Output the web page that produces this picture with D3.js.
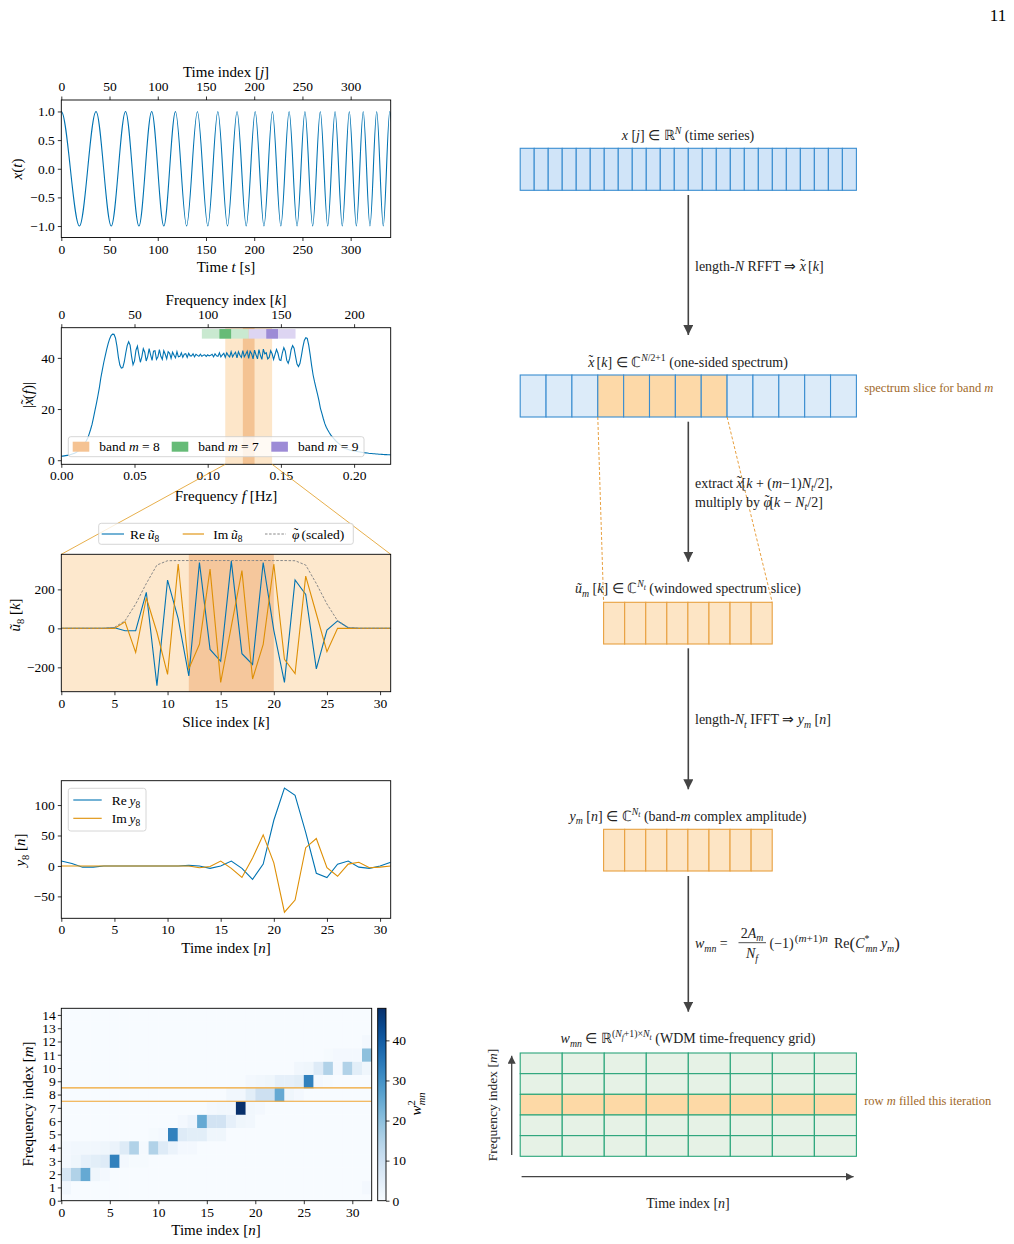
<!DOCTYPE html>
<html><head><meta charset="utf-8">
<script src="https://cdn.jsdelivr.net/npm/d3@7/dist/d3.min.js"></script>
<style>
html,body{margin:0;padding:0;background:#fff}
svg{display:block}
text{font-family:"Liberation Serif","Times New Roman",serif;white-space:pre}
</style></head><body>
<svg id="fig" width="1014" height="1244" xmlns="http://www.w3.org/2000/svg"></svg>
<script>
// ================= DATA =================
// Panel 1: chirp x(t) — extremum times (alternating troughs / peaks)
const chirpT = [-18.8, 0, 18.8, 36.0, 51.8, 66.6, 80.5, 93.7, 106.3, 118.4, 129.9, 141.1, 151.9, 162.3, 172.3, 182.2, 191.7, 201.0, 210.1, 218.9, 227.6, 236.2, 244.4, 252.6, 260.6, 268.5, 276.2, 283.8, 291.3, 298.6, 305.9, 313.0, 320.0, 327.0, 333.8, 340.5, 347.1];
const chirpX = [-1, 1, -1, 1, -1, 1, -1, 1, -1, 1, -1, 1, -1, 1, -1, 1, -1, 1, -1, 1, -1, 1, -1, 1, -1, 1, -1, 1, -1, 1, -1, 1, -1, 1, -1, 1, -1];
const tTicks = [0, 50, 100, 150, 200, 250, 300];
const xTicks1 = [-1.0, -0.5, 0.0, 0.5, 1.0];

// Panel 2: |x~(f)| at integer k (f = k/1000 Hz)
const specMag = [
 1.6,1.6,1.7,1.8,1.9,2.0,2.1,2.3,2.5,2.7,
 3.0,3.4,3.8,4.3,4.9,5.6,6.5,7.5,8.6,10.2,
 12.0,14.0,16.6,19.5,22.2,25.2,28.4,32.2,35.2,38.2,
 40.8,43.3,45.6,47.4,48.7,49.3,49.2,47.8,44.6,40.2,
 37.2,36.0,36.2,38.4,41.8,44.8,46.3,45.0,40.6,37.3,
 38.8,43.0,44.6,41.2,38.3,40.4,43.6,42.2,38.8,40.5,
 43.6,41.2,39.0,42.6,42.8,39.4,40.4,43.2,40.6,39.4,
 42.8,41.4,39.6,42.4,41.8,39.8,42.2,41.0,40.0,42.4,
 40.4,40.6,42.0,40.2,41.4,41.6,40.2,41.8,40.8,40.8,
 41.6,40.4,41.4,41.0,40.6,41.4,40.6,41.0,41.2,40.6,
 41.2,40.8,41.0,41.4,40.4,41.6,40.8,40.6,42.0,40.4,
 41.2,41.8,40.2,42.0,41.0,40.4,42.4,40.4,41.4,42.2,
 40.0,42.4,41.0,40.2,42.8,40.4,41.4,42.6,39.8,42.6,
 41.6,39.6,43.0,41.2,39.6,43.2,41.0,39.4,43.4,41.6,
 42.0,39.6,40.2,42.8,41.6,39.4,41.4,43.3,41.8,39.2,
 39.0,42.0,44.0,42.6,39.0,37.9,39.8,43.2,44.8,43.8,
 40.6,37.6,36.6,37.8,40.8,44.2,46.8,47.9,47.6,45.0,
 41.2,37.0,33.3,30.6,28.2,25.8,23.3,20.3,18.3,16.2,
 14.3,12.9,11.8,10.8,9.9,9.2,8.5,7.9,7.3,6.8,
 6.3,5.8,5.3,4.9,4.6,4.4,4.2,4.0,3.85,3.7,
 3.6,3.5,3.4,3.3,3.2,3.1,3.0,2.9,2.85,2.8,
 2.7,2.65,2.6,2.55,2.5,2.45,2.4,2.35,2.3,2.27,
 2.24,2.2,2.17,2.14,2.11,2.08];
const fTicks = [0.00, 0.05, 0.10, 0.15, 0.20];
const kTicks = [0, 50, 100, 150, 200];
const magTicks = [0, 20, 40];
const bandNames = [8, 7, 9];
const band8 = [112, 144], band8Core = [124, 132];
const band7 = [96, 128],  band7Core = [108, 116];
const band9 = [128, 160], band9Core = [140, 148];

// Panel 3: windowed slice u~8[k], k = 0..31
const reU8 = [0,0,0,0,0,3,-12,-12,185,-294,248,50,-244,338,-108,-169,345,-130,-185,338,-10,-277,248,174,-208,-9,38,3,0,0,0,0];
const imU8 = [0,0,0,0,0,0,34,-123,157,-20,-236,330,-208,-82,304,-277,10,296,-260,-82,330,-159,-232,268,75,-120,0,0,0,0,0,0];
const phiScaled = [0,0,0,0,0,5,39,125,230,325,347,348,348,348,348,348,348,348,348,348,348,348,347,325,230,125,39,5,0,0,0,0];
const coreSlice = [12, 20];
const sliceTicks = [0, 5, 10, 15, 20, 25, 30];
const uTicks = [-200, 0, 200];

// Panel 4: y8[n], n = 0..31
const reY8 = [8,4,-2,-2,0,0,0,0,0,0,0,0,1,0,-4,0,8,-4,-22,3,75,128,116,55,-12,-19,3,8,-2,-4,0,6];
const imY8 = [0,0,0,0,0,0,0,0,0,0,0,0,0,-3,-1,8,-4,-19,13,51,5,-76,-56,30,45,-3,-17,3,6,-3,-2,0];
const yTicks = [-50, 0, 50, 100];

// Panel 5: w_mn^2, rows m = 0..14, columns n = 0..31
const heat = [
 [0,0,0,0,0,0,0,0, 0,0,0,0,0,0,0,0, 0,0,0,0,0,0,0,0, 0,0,0,0,0,0,0,0],
 [1.5,0,0,0,0,0,0,0, 0,0,0,0,0,0,0,0, 0,0,0,0,0,0,0,0, 0,0,0,0,0,0,0,1],
 [8,15,25,2,1,0,0,0, 0,0,0,0,0,0,0,0, 0,0,0,0,0,0,0,0, 0,0,0,0,0,0,0,0],
 [1,2,4,5,6,33,1,0.5, 0.5,0,0,0,0,0,0,0, 0,0,0,0,0,0,0,0, 0,0,0,0,0,0,0,0],
 [1,1.5,1.5,1.5,2,3,6,15, 0.8,15,6,3,1,1,0,0, 0,0,0,0,0,0,0,0, 0,0,0,0,0,0,0,0],
 [0,0,0,0,0,0,0,0, 0,0.5,1,33,6,5,5,2, 2,0,0,0,0,0,0,0, 0,0,0,0,0,0,0,0],
 [0,0,0,0,0,0,0,0, 0,0,0,0,1,2.5,25,9, 9,4,2,1.5,0,0,0,0, 0,0,0,0,0,0,0,0],
 [0,0,0,0,0,0,0,0, 0,0,0,0,0,0,0,1, 1.5,1.5,48,1.5,1,0,0,0, 0,0,0,0,0,0,0,0],
 [0,0,0,0,0,0,0,0, 0,0,0,0,0,0,0,0, 0,1.5,1.5,5,10,10,25,2, 1,0,0,0,0,0,0,0],
 [0,0,0,0,0,0,0,0, 0,0,0,0,0,0,0,0, 0,0,0,1,1.5,2,4,4, 5,33,1,0.5,0,0,0,0],
 [0,0,0,0,0,0,0,0, 0,0,0,0,0,0,0,0, 0,0,0,0,0,0,0,0, 1.5,2,6,15,1,15,5,2],
 [0,0,0,0,0,0,0,0, 0,0,0,0,0,0,0,0, 0,0,0,0,0,0,0,0, 0,0,0,0.5,1,1,1,20],
 [0,0,0,0,0,0,0,0, 0,0,0,0,0,0,0,0, 0,0,0,0,0,0,0,0, 0,0,0,0,0,0,0,1],
 [0,0,0,0,0,0,0,0, 0,0,0,0,0,0,0,0, 0,0,0,0,0,0,0,0, 0,0,0,0,0,0,0,0],
 [0,0,0,0,0,0,0,0, 0,0,0,0,0,0,0,0, 0,0,0,0,0,0,0,0, 0,0,0,0,0,0,0,0]];
const heatMax = 48;
const heatXTicks = [0, 5, 10, 15, 20, 25, 30];
const heatYTicks = [0,1,2,3,4,5,6,7,8,9,10,11,12,13,14];
const cbTicks = [0, 10, 20, 30, 40];
const bandLines = [7.5, 8.5];

// Right-hand diagram
const nTimeCells = 24;
const nSpecCells = 13;
const specSliceCells = [3, 4, 5, 6, 7];
const nSliceCells = 8;
const gridCols = 8, gridRows = 5, gridHighlightRow = 2;

// ================= DRAWING =================
const BLUE = "#0173B2", ORANGE = "#DE8F05";
const FONT = '"Liberation Serif","Times New Roman",serif';
const svg = d3.select("#fig");
svg.append("rect").attr("width", 1014).attr("height", 1244).attr("fill", "#fff");
const defs = svg.append("defs");

const R = t => ({t});
const I = t => ({t, i: 1});
const Sb = (t, i = 1) => ({t, i, o: 0.25, s: 0.7});
const Sp = (t, i = 0) => ({t, i, o: -0.4, s: 0.7});
const Ss = (t, i = 1) => ({t, i, o: -0.22, s: 0.55});
const Tl = (dx) => ({t: "˜", o: -0.12, dx: dx});

function rich(sel, parts, fs) {
  let cur = 0;
  parts.forEach(p => {
    const o = (p.o || 0) * fs;
    const ts = sel.append("tspan").text(p.t);
    if (o !== cur) { ts.attr("dy", o - cur); cur = o; }
    if (p.s) ts.attr("font-size", fs * p.s);
    if (p.i) ts.attr("font-style", "italic");
    if (p.dx) ts.attr("dx", p.dx * (p.t === "˜" ? fs / 14 : 1));
  });
}
function label(x, y, parts, fs, anchor = "middle", rot = 0, color = "#000") {
  const t = svg.append("text").attr("font-size", fs).attr("text-anchor", anchor).attr("fill", color);
  if (rot) t.attr("transform", `translate(${x},${y}) rotate(${rot})`);
  else t.attr("x", x).attr("y", y);
  rich(t, parts, fs);
  return t;
}
function axis(gen, tx, ty) {
  const g = svg.append("g").attr("transform", `translate(${tx},${ty})`).call(gen);
  g.select(".domain").remove();
  g.attr("font-family", FONT).attr("font-size", 13.5);
  g.selectAll(".tick line").attr("stroke", "#000").attr("stroke-width", 0.8);
  g.selectAll(".tick text").attr("fill", "#000");
  return g;
}
function spine(x0, x1, y0, y1) {
  svg.append("rect").attr("x", x0).attr("y", y0).attr("width", x1 - x0).attr("height", y1 - y0)
    .attr("fill", "none").attr("stroke", "#000").attr("stroke-width", 0.9);
}
let clipN = 0;
function clip(x0, x1, y0, y1) {
  const id = "clip" + (clipN++);
  defs.append("clipPath").attr("id", id).append("rect")
    .attr("x", x0).attr("y", y0).attr("width", x1 - x0).attr("height", y1 - y0);
  return svg.append("g").attr("clip-path", `url(#${id})`);
}
function legendBox(x0, y0, x1, y1) {
  svg.append("rect").attr("x", x0).attr("y", y0).attr("width", x1 - x0).attr("height", y1 - y0)
    .attr("rx", 2.5).attr("fill", "#fff").attr("fill-opacity", 0.8)
    .attr("stroke", "#cccccc").attr("stroke-width", 0.8);
}

const AX0 = 61.3, AX1 = 390.7;

// ---------- Panel 1 ----------
{
  const y0 = 100, y1 = 237.5;
  const xs = d3.scaleLinear([0, 341.5], [AX0, AX1]);
  const ys = d3.scaleLinear([-1.2, 1.2], [y1, y0]);
  const g = clip(AX0, AX1, y0, y1);
  g.append("path").datum(d3.zip(chirpT, chirpX))
    .attr("d", d3.line().x(d => xs(d[0])).y(d => ys(d[1])).curve(d3.curveMonotoneX))
    .attr("fill", "none").attr("stroke", BLUE).attr("stroke-width", 1.1);
  spine(AX0, AX1, y0, y1);
  axis(d3.axisBottom(xs).tickValues(tTicks).tickSize(3.5).tickPadding(3).tickFormat(d3.format("d")), 0, y1);
  axis(d3.axisTop(xs).tickValues(tTicks).tickSize(3.5).tickPadding(5.5).tickFormat(d3.format("d")), 0, y0);
  axis(d3.axisLeft(ys).tickValues(xTicks1).tickSize(3.5).tickPadding(3).tickFormat(d3.format(".1f")), AX0, 0);
  label(226, 77, [R("Time index ["), I("j"), R("]")], 15);
  label(226, 272, [R("Time "), I("t"), R(" [s]")], 15);
  label(22, 169, [I("x"), R("("), I("t"), R(")")], 15, "middle", -90);
}

// ---------- Panel 2 ----------
const P2 = {y0: 327.7, y1: 464.3};
const kScale = d3.scaleLinear([0, 225], [AX0, AX1]);
{
  const {y0, y1} = P2;
  const xs = d3.scaleLinear([0, 0.225], [AX0, AX1]);
  const ys = d3.scaleLinear([-1.6, 51.8], [y1, y0]);
  const g = clip(AX0, AX1, y0, y1);
  const span = (b, fill, fy0, fy1) => g.append("rect")
    .attr("x", kScale(b[0])).attr("width", kScale(b[1]) - kScale(b[0]))
    .attr("y", y0 + (1 - fy1) * (y1 - y0)).attr("height", (fy1 - fy0) * (y1 - y0)).attr("fill", fill);
  span(band8, "#fde6c9", 0, 1);
  span(band8Core, "#f4c393", 0, 1);
  span(band7, "#c9e9d0", 0.92, 0.99);
  span(band7Core, "#66bb77", 0.92, 0.99);
  span(band9, "#ddd5f2", 0.92, 0.99);
  span(band9Core, "#9d8bd6", 0.92, 0.99);
  g.append("path").datum(specMag)
    .attr("d", d3.line().x((d, i) => kScale(i)).y(d => ys(d)))
    .attr("fill", "none").attr("stroke", BLUE).attr("stroke-width", 1.1);
  legendBox(68.3, 436.7, 364, 456.7);
  const cols = ["#f5c393", "#66bb77", "#9d8bd6"];
  const px = [72.7, 171.7, 271.3];
  bandNames.forEach((m, i) => {
    svg.append("rect").attr("x", px[i]).attr("y", 441.7).attr("width", 16.6).attr("height", 10).attr("fill", cols[i]);
    label(px[i] + 26.6, 451.3, [R("band "), I("m"), R(" = " + m)], 13.5, "start");
  });
  spine(AX0, AX1, y0, y1);
  axis(d3.axisBottom(xs).tickValues(fTicks).tickSize(3.5).tickPadding(3).tickFormat(d3.format(".2f")), 0, y1);
  axis(d3.axisTop(kScale).tickValues(kTicks).tickSize(3.5).tickPadding(5.5).tickFormat(d3.format("d")), 0, y0);
  axis(d3.axisLeft(ys).tickValues(magTicks).tickSize(3.5).tickPadding(3).tickFormat(d3.format("d")), AX0, 0);
  label(226, 304.5, [R("Frequency index ["), I("k"), R("]")], 15);
  label(226, 501, [R("Frequency "), I("f"), R(" [Hz]")], 15);
  label(33, 395, [R("|"), I("x"), Tl(-5.5), R("("), I("f"), R(")|")], 15, "middle", -90);
}

// ---------- Panel 3 ----------
{
  const y0 = 554.3, y1 = 691.7;
  svg.append("line").attr("x1", kScale(band8[0])).attr("y1", P2.y1).attr("x2", AX0).attr("y2", y0)
    .attr("stroke", ORANGE).attr("stroke-width", 0.9).attr("stroke-opacity", 0.8);
  svg.append("line").attr("x1", kScale(band8[1])).attr("y1", P2.y1).attr("x2", AX1).attr("y2", y0)
    .attr("stroke", ORANGE).attr("stroke-width", 0.9).attr("stroke-opacity", 0.8);
  const xs = d3.scaleLinear([0, 31], [AX0, AX1]);
  const ys = d3.scaleLinear([-325, 380], [y1, y0]);
  const g = clip(AX0, AX1, y0, y1);
  g.append("rect").attr("x", AX0).attr("y", y0).attr("width", AX1 - AX0).attr("height", y1 - y0).attr("fill", "#fde8cd");
  g.append("rect").attr("x", xs(coreSlice[0])).attr("y", y0).attr("width", xs(coreSlice[1]) - xs(coreSlice[0]))
    .attr("height", y1 - y0).attr("fill", "#f5c79c");
  const ln = d3.line().x((d, i) => xs(i)).y(d => ys(d));
  g.append("path").datum(reU8).attr("d", ln).attr("fill", "none").attr("stroke", BLUE).attr("stroke-width", 1.1);
  g.append("path").datum(imU8).attr("d", ln).attr("fill", "none").attr("stroke", ORANGE).attr("stroke-width", 1.1);
  g.append("path").datum(phiScaled).attr("d", ln).attr("fill", "none").attr("stroke", "#888")
    .attr("stroke-width", 1).attr("stroke-dasharray", "2.5,1.6");
  spine(AX0, AX1, y0, y1);
  axis(d3.axisBottom(xs).tickValues(sliceTicks).tickSize(3.5).tickPadding(3).tickFormat(d3.format("d")), 0, y1);
  axis(d3.axisLeft(ys).tickValues(uTicks).tickSize(3.5).tickPadding(3).tickFormat(d3.format("d")), AX0, 0);
  legendBox(98.7, 523.3, 353.3, 544.3);
  const ly = 534;
  svg.append("line").attr("x1", 101.7).attr("x2", 124).attr("y1", ly).attr("y2", ly).attr("stroke", BLUE).attr("stroke-width", 1.1);
  label(130, ly + 4.5, [R("Re\u2009"), I("ũ"), Sb("8", 0)], 13.5, "start");
  svg.append("line").attr("x1", 182.7).attr("x2", 204).attr("y1", ly).attr("y2", ly).attr("stroke", ORANGE).attr("stroke-width", 1.1);
  label(213.3, ly + 4.5, [R("Im\u2009"), I("ũ"), Sb("8", 0)], 13.5, "start");
  svg.append("line").attr("x1", 265).attr("x2", 286).attr("y1", ly).attr("y2", ly).attr("stroke", "#888")
    .attr("stroke-width", 1).attr("stroke-dasharray", "2.5,1.6");
  label(292, ly + 4.5, [I("φ"), Tl(-6), R(" (scaled)")], 13.5, "start");
  label(226, 727, [R("Slice index ["), I("k"), R("]")], 15);
  label(20, 615, [I("ũ"), Sb("8", 0), R(" ["), I("k"), R("]")], 15, "middle", -90);
}

// ---------- Panel 4 ----------
{
  const y0 = 780.7, y1 = 918.3;
  const xs = d3.scaleLinear([0, 31], [AX0, AX1]);
  const ys = d3.scaleLinear([-86, 140], [y1, y0]);
  const g = clip(AX0, AX1, y0, y1);
  const ln = d3.line().x((d, i) => xs(i)).y(d => ys(d));
  g.append("path").datum(reY8).attr("d", ln).attr("fill", "none").attr("stroke", BLUE).attr("stroke-width", 1.1);
  g.append("path").datum(imY8).attr("d", ln).attr("fill", "none").attr("stroke", ORANGE).attr("stroke-width", 1.1);
  spine(AX0, AX1, y0, y1);
  axis(d3.axisBottom(xs).tickValues(sliceTicks).tickSize(3.5).tickPadding(3).tickFormat(d3.format("d")), 0, y1);
  axis(d3.axisLeft(ys).tickValues(yTicks).tickSize(3.5).tickPadding(3).tickFormat(d3.format("d")), AX0, 0);
  legendBox(68.3, 788.3, 146, 831);
  svg.append("line").attr("x1", 73.3).attr("x2", 101.7).attr("y1", 800).attr("y2", 800).attr("stroke", BLUE).attr("stroke-width", 1.1);
  label(111.7, 804.5, [R("Re\u2009"), I("y"), Sb("8", 0)], 13.5, "start");
  svg.append("line").attr("x1", 73.3).attr("x2", 101.7).attr("y1", 818.3).attr("y2", 818.3).attr("stroke", ORANGE).attr("stroke-width", 1.1);
  label(111.7, 822.8, [R("Im\u2009"), I("y"), Sb("8", 0)], 13.5, "start");
  label(226, 953, [R("Time index ["), I("n"), R("]")], 15);
  label(25, 850, [I("y"), Sb("8", 0), R(" ["), I("n"), R("]")], 15, "middle", -90);
}

// ---------- Panel 5 ----------
{
  const x0 = 61.3, x1 = 371.7, y0 = 1008.3, y1 = 1200.7;
  const xs = d3.scaleLinear([0, 32], [x0, x1]);
  const ys = d3.scaleLinear([0, 14.5], [y1, y0]);
  const col = d3.scaleSequential(d3.interpolateBlues).domain([0, heatMax]);
  const g = clip(x0, x1, y0, y1);
  heat.forEach((row, m) => row.forEach((v, n) => {
    g.append("rect").attr("x", xs(n)).attr("width", xs(n + 1) - xs(n) + 0.3)
      .attr("y", ys(m + 0.5)).attr("height", ys(m - 0.5) - ys(m + 0.5) + 0.3).attr("fill", col(v));
  }));
  bandLines.forEach((b, i) => g.append("line").attr("x1", x0).attr("x2", x1).attr("y1", ys(b)).attr("y2", ys(b))
    .attr("stroke", "#f0a530").attr("stroke-width", i ? 1.4 : 1.1));
  spine(x0, x1, y0, y1);
  axis(d3.axisBottom(xs).tickValues(heatXTicks).tickSize(3.5).tickPadding(3).tickFormat(d3.format("d")), 0, y1);
  axis(d3.axisLeft(ys).tickValues(heatYTicks).tickSize(3.5).tickPadding(2).tickFormat(d3.format("d")), x0, 0);
  const cx0 = 377.7, cx1 = 386;
  const cs = d3.scaleLinear([0, heatMax], [y1, y0]);
  const grad = defs.append("linearGradient").attr("id", "cbgrad").attr("x1", 0).attr("y1", 1).attr("x2", 0).attr("y2", 0);
  d3.range(0, 1.0001, 0.05).forEach(s => grad.append("stop").attr("offset", s).attr("stop-color", d3.interpolateBlues(s)));
  svg.append("rect").attr("x", cx0).attr("y", y0).attr("width", cx1 - cx0).attr("height", y1 - y0).attr("fill", "url(#cbgrad)");
  spine(cx0, cx1, y0, y1);
  axis(d3.axisRight(cs).tickValues(cbTicks).tickSize(3.5).tickPadding(3).tickFormat(d3.format("d")), cx1, 0);
  label(216, 1235, [R("Time index ["), I("n"), R("]")], 15);
  label(33, 1104, [R("Frequency index ["), I("m"), R("]")], 15, "middle", -90);
  label(421, 1104, [I("w"), Sp("2"), {t: "mn", i: 1, o: 0.25, s: 0.7, dx: -5}], 15, "middle", -90);
}

// ---------- Right diagram ----------
const DARK = "#222", BROWN = "#a0692a", ARROW = "#444";
defs.append("marker").attr("id", "arr").attr("markerUnits", "userSpaceOnUse")
  .attr("markerWidth", 10).attr("markerHeight", 10).attr("refX", 10).attr("refY", 5).attr("orient", "auto")
  .append("path").attr("d", "M0,0 L10,5 L0,10 z").attr("fill", ARROW);
defs.append("marker").attr("id", "arr2").attr("markerUnits", "userSpaceOnUse")
  .attr("markerWidth", 8).attr("markerHeight", 8).attr("refX", 8).attr("refY", 4).attr("orient", "auto")
  .append("path").attr("d", "M0,0 L8,4 L0,8 z").attr("fill", ARROW);

function cells(n, x0, x1, y0, y1, fillFn, stroke) {
  const b = d3.scaleBand().domain(d3.range(n)).range([x0, x1]);
  svg.append("g").selectAll("rect").data(d3.range(n)).join("rect")
    .attr("x", d => b(d)).attr("y", y0).attr("width", b.bandwidth()).attr("height", y1 - y0)
    .attr("fill", fillFn).attr("stroke", stroke).attr("stroke-width", 1.1);
}
function arrow(x, ya, yb) {
  svg.append("line").attr("x1", x).attr("x2", x).attr("y1", ya).attr("y2", yb)
    .attr("stroke", ARROW).attr("stroke-width", 1.6).attr("marker-end", "url(#arr)");
}
const DX0 = 520.2, DX1 = 856.4, SX0 = 603.6, SX1 = 772.2, AXX = 688.3;
const XT = [I("x"), Tl(-6)];

label(688, 140, [I("x"), R(" ["), I("j"), R("] ∈ ℝ"), Sp("N", 1), R(" (time series)")], 14, "middle", 0, DARK);
cells(nTimeCells, DX0, DX1, 148.3, 190.3, () => "#d0e4f8", "#3a8dd0");
arrow(AXX, 195, 335);
label(695, 270.5, [R("length-"), I("N"), R(" RFFT ⇒ "), ...XT, R(" ["), I("k"), R("]")], 14, "start", 0, DARK);

label(688, 366.5, [...XT, R(" ["), I("k"), R("] ∈ ℂ"), Sp("N", 1), Sp("/2+1"), R(" (one-sided spectrum)")], 14, "middle", 0, DARK);
cells(nSpecCells, DX0, DX1, 375, 417, d => specSliceCells.includes(d) ? "#fdd9a8" : "#dcebf9", "#3a8dd0");
label(864.2, 391.5, [R("spectrum slice for band "), I("m")], 12.5, "start", 0, BROWN);
{
  const b = d3.scaleBand().domain(d3.range(nSpecCells)).range([DX0, DX1]);
  const lx = b(specSliceCells[0]), rx = b(specSliceCells[specSliceCells.length - 1]) + b.bandwidth();
  [[lx, SX0], [rx, SX1]].forEach(([a, c]) => svg.append("line").attr("x1", a).attr("y1", 417).attr("x2", c).attr("y2", 602.3)
    .attr("stroke", "#e8a040").attr("stroke-width", 1).attr("stroke-dasharray", "3,2"));
}
arrow(AXX, 421.7, 561.7);
label(695, 487.5, [R("extract "), ...XT, R("["), I("k"), R(" + ("), I("m"), R("−1)"), I("N"), Sb("t"), R("/2],")], 14, "start", 0, DARK);
label(695, 506.5, [R("multiply by "), I("φ"), Tl(-6.5), R("["), I("k"), R(" − "), I("N"), Sb("t"), R("/2]")], 14, "start", 0, DARK);

label(688, 593, [I("ũ"), Sb("m"), R(" ["), I("k"), R("] ∈ ℂ"), Sp("N", 1), Ss("t"), R(" (windowed spectrum slice)")], 14, "middle", 0, DARK);
cells(nSliceCells, SX0, SX1, 602.3, 644, () => "#fde5c5", "#e8a040");
arrow(AXX, 648.3, 789.3);
label(695, 724, [R("length-"), I("N"), Sb("t"), R(" IFFT ⇒ "), I("y"), Sb("m"), R(" ["), I("n"), R("]")], 14, "start", 0, DARK);

label(688, 820.5, [I("y"), Sb("m"), R(" ["), I("n"), R("] ∈ ℂ"), Sp("N", 1), Ss("t"), R(" (band-"), I("m"), R(" complex amplitude)")], 14, "middle", 0, DARK);
cells(nSliceCells, SX0, SX1, 829.3, 871, () => "#fde5c5", "#e8a040");
arrow(AXX, 876, 1011.7);

// formula
label(695, 948, [I("w"), Sb("mn"), R(" =")], 14, "start", 0, DARK);
label(752, 937.5, [R("2"), I("A"), Sb("m")], 14, "middle", 0, DARK);
svg.append("line").attr("x1", 738.5).attr("x2", 766).attr("y1", 942.7).attr("y2", 942.7).attr("stroke", DARK).attr("stroke-width", 0.8);
label(752, 958, [I("N"), Sb("f")], 14, "middle", 0, DARK);
label(769.5, 948, [R("(−1)"), {t: "(", o: -0.45, s: 0.8, dx: 1}, {t: "m", i: 1, o: -0.45, s: 0.8}, {t: "+1)", o: -0.45, s: 0.8}, {t: "n", i: 1, o: -0.45, s: 0.8}], 14, "start", 0, DARK);
label(834, 948, [R("Re"), {t: "(", s: 1.2, o: 0.05}, I("C"), Sp("*"),
  {t: "mn", i: 1, o: 0.25, s: 0.7, dx: -4}, R(" "), I("y"), Sb("m"), {t: ")", s: 1.2, o: 0.05}], 14, "start", 0, DARK);

label(688, 1043, [I("w"), Sb("mn"), R(" ∈ ℝ"), Sp("("), Sp("N", 1), Ss("f"), Sp("+1)×"), Sp("N", 1), Ss("t"), R(" (WDM time-frequency grid)")], 14, "middle", 0, DARK);
{
  const gx = d3.scaleBand().domain(d3.range(gridCols)).range([DX0, DX1]);
  const gy = d3.scaleBand().domain(d3.range(gridRows)).range([1053, 1156.3]);
  const cellsData = d3.cross(d3.range(gridRows), d3.range(gridCols));
  svg.append("g").selectAll("rect").data(cellsData).join("rect")
    .attr("x", d => gx(d[1])).attr("y", d => gy(d[0])).attr("width", gx.bandwidth()).attr("height", gy.bandwidth())
    .attr("fill", d => d[0] === gridHighlightRow ? "#fdd9a6" : "#e6f2e6")
    .attr("stroke", "#2aa57a").attr("stroke-width", 1.1);
}
label(864.2, 1105, [R("row "), I("m"), R(" filled this iteration")], 12.5, "start", 0, BROWN);
svg.append("line").attr("x1", 511.7).attr("x2", 511.7).attr("y1", 1155).attr("y2", 1055.7)
  .attr("stroke", ARROW).attr("stroke-width", 1.3).attr("marker-end", "url(#arr2)");
svg.append("line").attr("x1", 521.6).attr("x2", 853.6).attr("y1", 1176.7).attr("y2", 1176.7)
  .attr("stroke", ARROW).attr("stroke-width", 1.3).attr("marker-end", "url(#arr2)");
label(497, 1105, [R("Frequency index ["), I("m"), R("]")], 13.5, "middle", -90, DARK);
label(688, 1208, [R("Time index ["), I("n"), R("]")], 14, "middle", 0, DARK);

label(998, 21, [R("11")], 17, "middle", 0, "#000");
</script>
</body></html>
